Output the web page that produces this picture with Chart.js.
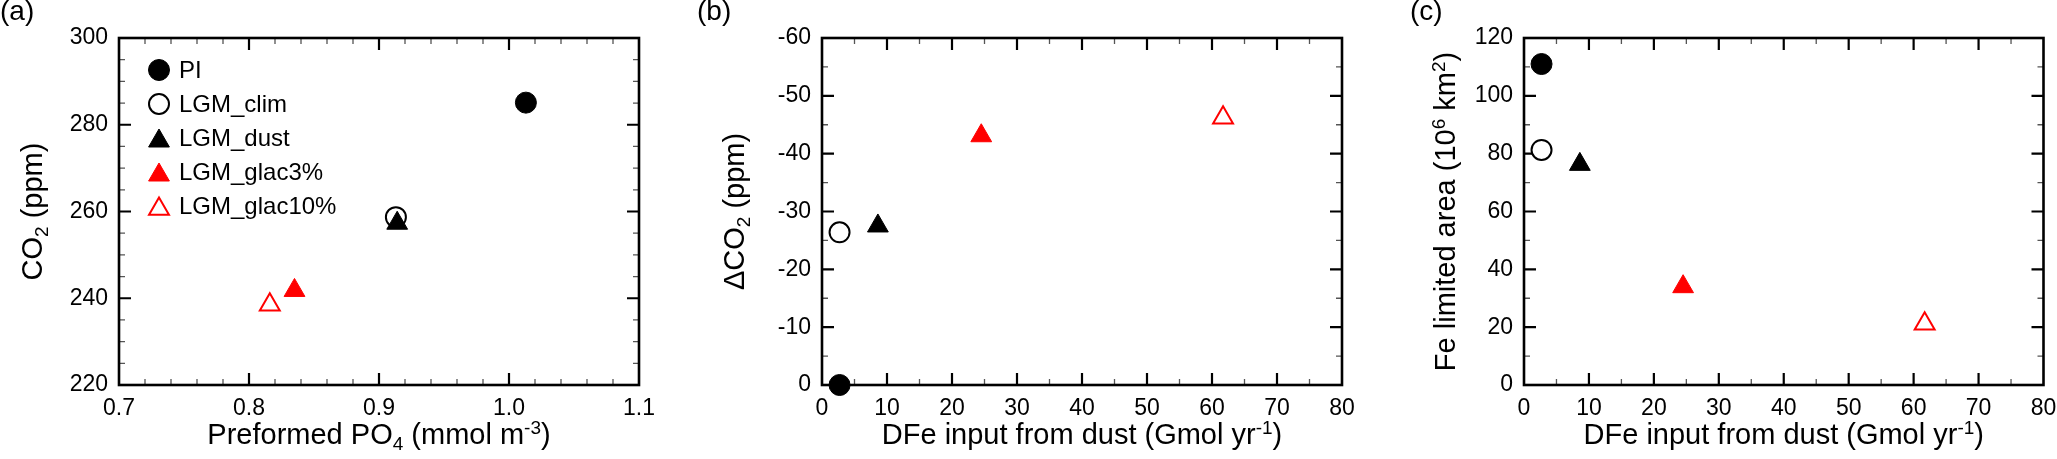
<!DOCTYPE html>
<html>
<head>
<meta charset="utf-8">
<script src="https://cdn.jsdelivr.net/npm/chart.js@4.4.1/dist/chart.umd.min.js"></script>
<style>
html, body { margin: 0; padding: 0; background: #fff; }
body { width: 2057px; height: 459px; position: relative; overflow: hidden; font-family: "Liberation Sans", Arial, sans-serif; }
.panel { position: absolute; top: 0; height: 459px; }
.tag { position: absolute; top: -5px; font-size: 28px; color: #000; }
</style>
</head>
<body>
<div class="panel" style="left:0;width:680px"><canvas id="chartA" width="680" height="459"></canvas></div>
<div class="panel" style="left:690px;width:680px"><canvas id="chartB" width="680" height="459"></canvas></div>
<div class="panel" style="left:1380px;width:677px"><canvas id="chartC" width="677" height="459"></canvas></div>
<div class="tag" style="left:0">(a)</div>
<div class="tag" style="left:697px">(b)</div>
<div class="tag" style="left:1410px">(c)</div>
<script>
// experiments, in legend order
const seriesNames = ["PI", "LGM_clim", "LGM_dust", "LGM_glac3%", "LGM_glac10%"];

// (a) CO2 vs preformed PO4
const preformedPO4 = [1.013, 0.913, 0.914, 0.835, 0.816];
const co2 = [285.1, 258.7, 257.3, 241.8, 238.5];

// (b), (c) shared x: DFe input from dust
const dfeInput = [2.7, 2.7, 8.6, 24.5, 61.7];
const deltaCO2 = [0, -26.4, -27.5, -43.1, -46.2];
const feLimitedArea = [111.0, 81.3, 76.3, 34.0, 21.2];

const FONT = '"Liberation Sans", Arial, sans-serif';
const TICK_SIZE = 23;
const TITLE_SIZE = 29;
const RED = "rgb(255,0,0)";

const markers = [
	{style: "circle", fill: "#000", line: "#000", r: 10.5, w: 1},
	{style: "circle", fill: "#fff", line: "#000", r: 10, w: 2},
	{style: "triangle", fill: "#000", line: "#000", r: 12, w: 1},
	{style: "triangle", fill: RED, line: RED, r: 12, w: 1},
	{style: "triangle", fill: "#fff", line: RED, r: 11.5, w: 2}
];

function buildDatasets(xs, ys)
{
	return seriesNames.map(function (name, i)
	{
		let m = markers[i];
		return {
			label: name,
			data: [{x: xs[i], y: ys[i]}],
			pointStyle: m.style,
			pointRadius: m.r,
			pointBackgroundColor: m.fill,
			pointBorderColor: m.line,
			pointBorderWidth: m.w,
			clip: false,
			order: seriesNames.length - i
		};
	});
}

// text with sub/superscripts, centred on (x, y) at cap middle
function drawRich(ctx, segs, x, y, size, rotate)
{
	ctx.save();
	ctx.translate(x, y);
	if (rotate) ctx.rotate(-Math.PI / 2);
	let small = Math.round(size * 0.66);
	let total = 0;
	let parts = segs.map(function (s)
	{
		let fs = s.s ? small : size;
		ctx.font = fs + "px " + FONT;
		let pw = ctx.measureText(s.t).width;
		total += pw;
		let dy = s.s === "sub" ? size * 0.2 : (s.s === "sup" ? -size * 0.36 : 0);
		return {t: s.t, fs: fs, pw: pw, dy: dy};
	});
	let cx = -total / 2;
	ctx.textBaseline = "alphabetic";
	ctx.textAlign = "left";
	ctx.fillStyle = "#000";
	parts.forEach(function (p)
	{
		ctx.font = p.fs + "px " + FONT;
		ctx.fillText(p.t, cx, size * 0.358 + p.dy);
		cx += p.pw;
	});
	ctx.restore();
}

// box round the plot with inward ticks on all four sides
const framePlugin = {
	id: "frame",
	beforeDatasetsDraw(chart, args, opts)
	{
		const ctx = chart.ctx;
		const a = chart.chartArea;
		const xs = chart.scales.x, ys = chart.scales.y;
		ctx.save();
		ctx.lineCap = "butt";

		function each(scale, major, minor, fn)
		{
			let n = Math.round((scale.max - scale.min) / minor);
			for (let i = 1; i < n; i++)
			{
				let v = scale.min + i * minor;
				let q = v / major;
				fn(scale.getPixelForValue(v), Math.abs(q - Math.round(q)) < 1e-6);
			}
		}

		each(xs, opts.xMajor, opts.xMinor, function (px, big)
		{
			let len = big ? 12 : 6;
			ctx.strokeStyle = big ? "#000" : "#555";
			ctx.lineWidth = big ? 2.2 : 1.3;
			ctx.beginPath();
			ctx.moveTo(px, a.bottom); ctx.lineTo(px, a.bottom - len);
			ctx.moveTo(px, a.top); ctx.lineTo(px, a.top + len);
			ctx.stroke();
		});
		each(ys, opts.yMajor, opts.yMinor, function (py, big)
		{
			let len = big ? 12 : 6;
			ctx.strokeStyle = big ? "#000" : "#555";
			ctx.lineWidth = big ? 2.2 : 1.3;
			ctx.beginPath();
			ctx.moveTo(a.left, py); ctx.lineTo(a.left + len, py);
			ctx.moveTo(a.right, py); ctx.lineTo(a.right - len, py);
			ctx.stroke();
		});

		ctx.strokeStyle = "#000";
		ctx.lineWidth = 2.6;
		ctx.strokeRect(a.left, a.top, a.right - a.left, a.bottom - a.top);
		ctx.restore();
	},
	afterDraw(chart, args, opts)
	{
		const ctx = chart.ctx;
		const a = chart.chartArea;
		drawRich(ctx, opts.xTitle, (a.left + a.right) / 2, 444 - TITLE_SIZE * 0.358, TITLE_SIZE, false);
		drawRich(ctx, opts.yTitle, opts.yTitleX, (a.top + a.bottom) / 2, TITLE_SIZE, true);
	}
};

// legend drawn inside panel (a)
const legendPlugin = {
	id: "insideLegend",
	afterDatasetsDraw(chart, args, opts)
	{
		if (!opts.show) return;
		const ctx = chart.ctx;
		const a = chart.chartArea;
		ctx.save();
		seriesNames.forEach(function (name, i)
		{
			let m = markers[i];
			let rowY = a.top + 32 + i * 34;
			ctx.fillStyle = m.fill;
			ctx.strokeStyle = m.line;
			ctx.lineWidth = m.w;
			let cy = m.style === "triangle" ? rowY + 3 : rowY;
			Chart.helpers.drawPoint(ctx, {pointStyle: m.style, radius: m.r, borderWidth: m.w, rotation: 0}, a.left + 40, cy);
			ctx.fillStyle = "#000";
			ctx.font = "24px " + FONT;
			ctx.textBaseline = "middle";
			ctx.textAlign = "left";
			ctx.fillText(name, a.left + 60, rowY + 1);
		});
		ctx.restore();
	}
};

function makeChart(id, cfg)
{
	let tickFont = {family: FONT, size: TICK_SIZE};
	return new Chart(document.getElementById(id), {
		type: "scatter",
		data: {datasets: buildDatasets(cfg.xs, cfg.ys)},
		plugins: [framePlugin, legendPlugin],
		options: {
			responsive: false,
			animation: false,
			events: [],
			layout: {padding: {top: 38, left: 0, bottom: 0, right: cfg.padRight}},
			plugins: {
				legend: {display: false},
				tooltip: {enabled: false},
				frame: {xMajor: cfg.xMajor, xMinor: cfg.xMinor, yMajor: cfg.yMajor, yMinor: cfg.yMinor,
					xTitle: cfg.xTitle, yTitle: cfg.yTitle, yTitleX: cfg.yTitleX},
				insideLegend: {show: !!cfg.legend}
			},
			scales: {
				x: {
					type: "linear", min: cfg.xMin, max: cfg.xMax,
					grid: {display: false, drawTicks: false},
					border: {display: false},
					ticks: {stepSize: cfg.xMajor, font: tickFont, color: "#000", padding: 10, maxRotation: 0,
						callback: function (v) { return v.toFixed(cfg.xDec); }},
					afterFit: function (s) { s.height = 74; s.paddingLeft = 0; s.paddingRight = 0; }
				},
				y: {
					type: "linear", min: cfg.yMin, max: cfg.yMax, reverse: !!cfg.yReverse,
					grid: {display: false, drawTicks: false},
					border: {display: false},
					ticks: {stepSize: cfg.yMajor, font: tickFont, color: "#000", padding: 11,
						callback: function (v) { return String(v); }},
					afterFit: function (s) { s.width = cfg.yWidth; s.paddingTop = 0; s.paddingBottom = 0; }
				}
			}
		}
	});
}

const dfeTitle = [{t: "DFe input from dust (Gmol yr"}, {t: "-1", s: "sup"}, {t: ")"}];

makeChart("chartA", {
	xs: preformedPO4, ys: co2,
	xMin: 0.7, xMax: 1.1, xMajor: 0.1, xMinor: 0.02, xDec: 1,
	yMin: 220, yMax: 300, yMajor: 20, yMinor: 5,
	yWidth: 119, padRight: 41, yTitleX: 32, legend: true,
	xTitle: [{t: "Preformed PO"}, {t: "4", s: "sub"}, {t: " (mmol m"}, {t: "-3", s: "sup"}, {t: ")"}],
	yTitle: [{t: "CO"}, {t: "2", s: "sub"}, {t: " (ppm)"}]
});

makeChart("chartB", {
	xs: dfeInput, ys: deltaCO2,
	xMin: 0, xMax: 80, xMajor: 10, xMinor: 5, xDec: 0,
	yMin: -60, yMax: 0, yMajor: 10, yMinor: 5, yReverse: true,
	yWidth: 132, padRight: 28, yTitleX: 734 - 690,
	xTitle: dfeTitle,
	yTitle: [{t: "\u0394CO"}, {t: "2", s: "sub"}, {t: " (ppm)"}]
});

makeChart("chartC", {
	xs: dfeInput, ys: feLimitedArea,
	xMin: 0, xMax: 80, xMajor: 10, xMinor: 5, xDec: 0,
	yMin: 0, yMax: 120, yMajor: 20, yMinor: 10,
	yWidth: 144, padRight: 13, yTitleX: 1445 - 1380,
	xTitle: dfeTitle,
	yTitle: [{t: "Fe limited area (10"}, {t: "6", s: "sup"}, {t: " km"}, {t: "2", s: "sup"}, {t: ")"}]
});
</script>
</body>
</html>
